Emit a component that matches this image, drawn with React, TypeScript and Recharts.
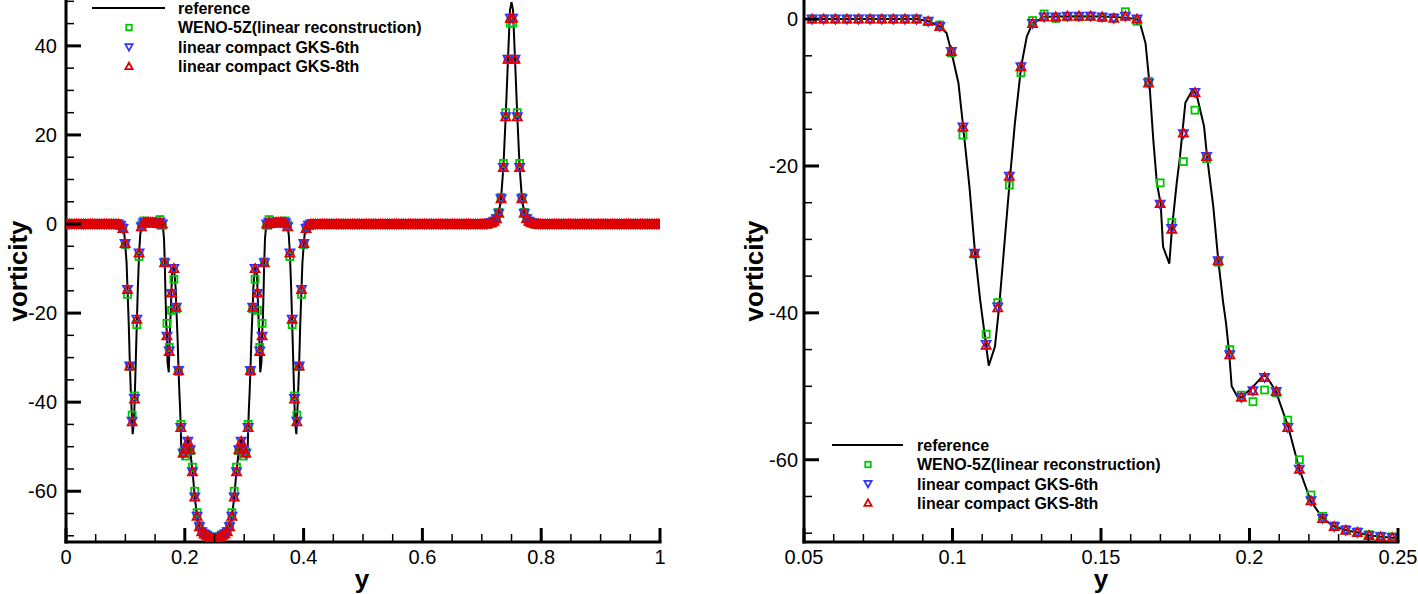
import React from "react";
import { ComposedChart, Line, Scatter, XAxis, YAxis } from "recharts";

// cell centres of the 256-cell grid used by the three schemes
const N = 256;
const cellY = Array.from({ length: N }, (_, i) => (i + 0.5) / N);

// WENO-5Z (linear reconstruction)
const weno = [
  0, 0, 0, 0, 0, 0, 0, 0, 0, 0, 0, 0, 0, 0, 0, 0,
  0, 0, 0, 0, 0, 0, 0, -0.3, -0.8, -4.6, -15.8, -32.0, -42.9, -38.6, -22.6, -7.3,
  -0.2, 0.7, 0.1, 0.3, 0.3, 0.4, 0.2, 0.2, 1.0, -0.3, -8.5, -22.3, -27.7, -19.4, -12.4, -19.0,
  -33.1, -45.0, -51.2, -52.1, -50.5, -50.9, -54.6, -60.0, -64.8, -67.7, -69.0, -69.5, -69.8, -70.2, -70.4, -70.5,
  -70.5, -70.4, -70.2, -69.8, -69.5, -69.0, -67.7, -64.8, -60.0, -54.6, -50.9, -50.5, -52.1, -51.2, -45.0, -33.1,
  -19.0, -12.4, -19.4, -27.7, -22.3, -8.5, -0.3, 1.0, 0.2, 0.2, 0.4, 0.3, 0.3, 0.1, 0.7, -0.2,
  -7.3, -22.6, -38.6, -42.9, -32.0, -15.8, -4.6, -0.8, -0.3, 0, 0, 0, 0, 0, 0, 0,
  0, 0, 0, 0, 0, 0, 0, 0, 0, 0, 0, 0, 0, 0, 0, 0,
  0, 0, 0, 0, 0, 0, 0, 0, 0, 0, 0, 0, 0, 0, 0, 0,
  0, 0, 0, 0, 0, 0, 0, 0, 0, 0, 0, 0, 0, 0, 0, 0,
  0, 0, 0, 0, 0, 0, 0, 0, 0, 0, 0, 0, 0, 0, 0, 0,
  0, 0, 0, 0, 0, 0, 0.2, 0.3, 0.6, 1.3, 2.6, 6.0, 13.6, 25.0, 37.0, 45.1,
  45.1, 37.0, 25.0, 13.6, 6.0, 2.6, 1.3, 0.6, 0.3, 0.2, 0, 0, 0, 0, 0, 0,
  0, 0, 0, 0, 0, 0, 0, 0, 0, 0, 0, 0, 0, 0, 0, 0,
  0, 0, 0, 0, 0, 0, 0, 0, 0, 0, 0, 0, 0, 0, 0, 0,
  0, 0, 0, 0, 0, 0, 0, 0, 0, 0, 0, 0, 0, 0, 0, 0,
];

// linear compact GKS-6th
const gks6 = [
  0, 0, 0, 0, 0, 0, 0, 0, 0, 0, 0, 0, 0, 0, 0, 0,
  0, 0, 0, 0, 0, 0, 0, -0.3, -1.0, -4.4, -14.7, -31.9, -44.3, -39.2, -21.4, -6.5,
  -0.6, 0.3, 0.3, 0.4, 0.4, 0.4, 0.3, 0.1, 0.4, 0, -8.7, -25.2, -28.5, -15.6, -10.0, -18.7,
  -32.9, -45.7, -51.5, -50.6, -48.8, -50.7, -55.6, -61.3, -65.6, -68.0, -69.1, -69.6, -69.9, -70.3, -70.5, -70.6,
  -70.6, -70.5, -70.3, -69.9, -69.6, -69.1, -68.0, -65.6, -61.3, -55.6, -50.7, -48.8, -50.6, -51.5, -45.7, -32.9,
  -18.7, -10.0, -15.6, -28.5, -25.2, -8.7, 0, 0.4, 0.1, 0.3, 0.4, 0.4, 0.4, 0.3, 0.3, -0.6,
  -6.5, -21.4, -39.2, -44.3, -31.9, -14.7, -4.4, -1.0, -0.3, 0, 0, 0, 0, 0, 0, 0,
  0, 0, 0, 0, 0, 0, 0, 0, 0, 0, 0, 0, 0, 0, 0, 0,
  0, 0, 0, 0, 0, 0, 0, 0, 0, 0, 0, 0, 0, 0, 0, 0,
  0, 0, 0, 0, 0, 0, 0, 0, 0, 0, 0, 0, 0, 0, 0, 0,
  0, 0, 0, 0, 0, 0, 0, 0, 0, 0, 0, 0, 0, 0, 0, 0,
  0, 0, 0, 0, 0, 0, 0.2, 0.3, 0.6, 1.2, 2.4, 5.7, 12.7, 24.1, 37.0, 46.2,
  46.2, 37.0, 24.1, 12.7, 5.7, 2.4, 1.2, 0.6, 0.3, 0.2, 0, 0, 0, 0, 0, 0,
  0, 0, 0, 0, 0, 0, 0, 0, 0, 0, 0, 0, 0, 0, 0, 0,
  0, 0, 0, 0, 0, 0, 0, 0, 0, 0, 0, 0, 0, 0, 0, 0,
  0, 0, 0, 0, 0, 0, 0, 0, 0, 0, 0, 0, 0, 0, 0, 0,
];

// linear compact GKS-8th (overlaps the 6th-order result)
const gks8 = [
  0, 0, 0, 0, 0, 0, 0, 0, 0, 0, 0, 0, 0, 0, 0, 0,
  0, 0, 0, 0, 0, 0, 0, -0.3, -1.0, -4.4, -14.7, -31.9, -44.4, -39.3, -21.4, -6.5,
  -0.6, 0.3, 0.3, 0.4, 0.4, 0.4, 0.3, 0.1, 0.4, 0, -8.7, -25.1, -28.6, -15.5, -10.0, -18.7,
  -32.9, -45.7, -51.5, -50.6, -48.8, -50.7, -55.6, -61.3, -65.6, -68.0, -69.1, -69.6, -69.9, -70.3, -70.5, -70.6,
  -70.6, -70.5, -70.3, -69.9, -69.6, -69.1, -68.0, -65.6, -61.3, -55.6, -50.7, -48.8, -50.6, -51.5, -45.7, -32.9,
  -18.7, -10.0, -15.5, -28.6, -25.1, -8.7, 0, 0.4, 0.1, 0.3, 0.4, 0.4, 0.4, 0.3, 0.3, -0.6,
  -6.5, -21.4, -39.3, -44.4, -31.9, -14.7, -4.4, -1.0, -0.3, 0, 0, 0, 0, 0, 0, 0,
  0, 0, 0, 0, 0, 0, 0, 0, 0, 0, 0, 0, 0, 0, 0, 0,
  0, 0, 0, 0, 0, 0, 0, 0, 0, 0, 0, 0, 0, 0, 0, 0,
  0, 0, 0, 0, 0, 0, 0, 0, 0, 0, 0, 0, 0, 0, 0, 0,
  0, 0, 0, 0, 0, 0, 0, 0, 0, 0, 0, 0, 0, 0, 0, 0,
  0, 0, 0, 0, 0, 0, 0.2, 0.3, 0.6, 1.2, 2.4, 5.7, 12.7, 24.1, 37.0, 46.2,
  46.2, 37.0, 24.1, 12.7, 5.7, 2.4, 1.2, 0.6, 0.3, 0.2, 0, 0, 0, 0, 0, 0,
  0, 0, 0, 0, 0, 0, 0, 0, 0, 0, 0, 0, 0, 0, 0, 0,
  0, 0, 0, 0, 0, 0, 0, 0, 0, 0, 0, 0, 0, 0, 0, 0,
  0, 0, 0, 0, 0, 0, 0, 0, 0, 0, 0, 0, 0, 0, 0, 0,
];

// reference solution (fine grid)
const refY = [
  0, 0.05, 0.088, 0.0918, 0.0957, 0.098, 0.0996, 0.102, 0.1036, 0.1057, 0.1076, 0.1093,
  0.1122, 0.1143, 0.1157, 0.1194, 0.121, 0.1231, 0.125, 0.1269, 0.1309, 0.1348, 0.1426,
  0.1504, 0.1582, 0.1621, 0.1631, 0.165, 0.1663, 0.1676, 0.1688, 0.1701, 0.1709, 0.173,
  0.1739, 0.1755, 0.1766, 0.1784, 0.1809, 0.1822, 0.1847, 0.1857, 0.1878, 0.1895, 0.1911,
  0.1921, 0.1932, 0.194, 0.1959, 0.1974, 0.2013, 0.2047, 0.2058, 0.2089, 0.2131, 0.2168,
  0.2206, 0.2247, 0.2286, 0.2325, 0.2364, 0.2403, 0.2442, 0.25,
  0.2558, 0.2597, 0.2636, 0.2675, 0.2714, 0.2753, 0.2794, 0.2832, 0.2869, 0.2911, 0.2942,
  0.2953, 0.2987, 0.3026, 0.3041, 0.306, 0.3068, 0.3079, 0.3089, 0.3105, 0.3122, 0.3143,
  0.3153, 0.3178, 0.3191, 0.3216, 0.3234, 0.3245, 0.3261, 0.327, 0.3291, 0.3299, 0.3312,
  0.3324, 0.3337, 0.335, 0.3369, 0.3379, 0.3418, 0.3496, 0.3574, 0.3652, 0.3691, 0.3731,
  0.375, 0.3769, 0.379, 0.3806, 0.3843, 0.3857, 0.3878, 0.3907, 0.3924, 0.3943, 0.3964,
  0.398, 0.4004, 0.402, 0.4043, 0.4082, 0.412,
  0.7, 0.7168, 0.7207, 0.7246, 0.7285, 0.7324, 0.7363, 0.7402, 0.7441, 0.7475, 0.75,
  0.7525, 0.7559, 0.7598, 0.7637, 0.7676, 0.7715, 0.7754, 0.7793, 0.7832, 0.8, 1,
];
const refV = [
  0, 0, 0, -0.3, -1.0, -1.9, -4.4, -8.7, -14.7, -22.8, -31.9, -38.2,
  -47.2, -44.6, -39.2, -21.4, -14.2, -6.5, -2.4, -0.6, 0.3, 0.35, 0.4,
  0.35, 0.2, 0, -0.5, -3.3, -8.7, -16.4, -22.3, -25.2, -31.0, -33.3,
  -28.5, -22.3, -18.7, -11.4, -9.6, -10.3, -14.6, -18.7, -25.5, -32.9, -38.5,
  -41.4, -45.7, -50.0, -51.4, -51.5, -50.0, -48.5, -48.7, -50.7, -55.6, -61.3,
  -65.6, -68.0, -69.1, -69.6, -69.9, -70.3, -70.5, -70.7,
  -70.5, -70.3, -69.9, -69.6, -69.1, -68.0, -65.6, -61.3, -55.6, -50.7, -48.7,
  -48.5, -50.0, -51.5, -51.4, -50.0, -45.7, -41.4, -38.5, -32.9, -25.5, -18.7,
  -14.6, -10.3, -9.6, -11.4, -18.7, -22.3, -28.5, -33.3, -31.0, -25.2, -22.3,
  -16.4, -8.7, -3.3, -0.5, 0, 0.2, 0.35, 0.4, 0.35, 0.3, -0.6,
  -2.4, -6.5, -14.2, -21.4, -39.2, -44.6, -47.2, -38.2, -31.9, -22.8, -14.7,
  -8.7, -4.4, -1.9, -1.0, -0.3, 0,
  0, 0.3, 0.6, 1.2, 2.4, 5.7, 12.7, 24.1, 37.0, 48.1, 49.8,
  48.1, 37.0, 24.1, 12.7, 5.7, 2.4, 1.2, 0.6, 0.3, 0, 0,
];

// axis ticks
const leftXTicks = [0, 0.05, 0.1, 0.15, 0.2, 0.25, 0.3, 0.35, 0.4, 0.45, 0.5, 0.55, 0.6, 0.65, 0.7, 0.75, 0.8, 0.85, 0.9, 0.95, 1];
const leftXMajor = [0, 0.2, 0.4, 0.6, 0.8, 1];
const leftYTicks = [-70, -65, -60, -55, -50, -45, -40, -35, -30, -25, -20, -15, -10, -5, 0, 5, 10, 15, 20, 25, 30, 35, 40, 45, 50];
const leftYMajor = [-60, -40, -20, 0, 20, 40];
const rightXTicks = [0.05, 0.06, 0.07, 0.08, 0.09, 0.1, 0.11, 0.12, 0.13, 0.14, 0.15, 0.16, 0.17, 0.18, 0.19, 0.2, 0.21, 0.22, 0.23, 0.24, 0.25];
const rightXMajor = [0.05, 0.1, 0.15, 0.2, 0.25];
const rightYTicks = [-70, -65, -60, -55, -50, -45, -40, -35, -30, -25, -20, -15, -10, -5, 0];
const rightYMajor = [-60, -40, -20, 0];

const legendLabels = [
  "reference",
  "WENO-5Z(linear reconstruction)",
  "linear compact GKS-6th",
  "linear compact GKS-8th",
];

const FONT = "'Liberation Sans', Arial, Helvetica, sans-serif";
const GREEN = "#00c800";
const BLUE = "#3434ff";
const RED = "#de0000";

const toPts = (vals: number[]) => cellY.map((y, i) => ({ y, v: vals[i] }));
const wenoPts = toPts(weno);
const gks6Pts = toPts(gks6);
const gks8Pts = toPts(gks8);
const refPts = refY.map((y, i) => ({ y, v: refV[i] }));
const inZoom = (p: { y: number }) => p.y >= 0.05 - 1e-9 && p.y <= 0.25 + 1e-9;

const isMajor = (v: number, majors: number[]) => majors.some((m) => Math.abs(m - v) < 1e-9);

function SquareMark({ cx, cy, s = 7 }: any) {
  if (cx == null || cy == null) return null;
  return <rect x={cx - s / 2} y={cy - s / 2} width={s} height={s} fill="none" stroke={GREEN} strokeWidth={1.8} />;
}

function TriDown({ cx, cy, s = 4.5 }: any) {
  if (cx == null || cy == null) return null;
  const pts = `${cx - s},${cy - s * 0.8} ${cx + s},${cy - s * 0.8} ${cx},${cy + s}`;
  return <polygon points={pts} fill="none" stroke={BLUE} strokeWidth={1.8} />;
}

function TriUp({ cx, cy, s = 4.5 }: any) {
  if (cx == null || cy == null) return null;
  const pts = `${cx - s},${cy + s * 0.8} ${cx + s},${cy + s * 0.8} ${cx},${cy - s}`;
  return <polygon points={pts} fill="none" stroke={RED} strokeWidth={1.8} />;
}

function makeXTick(majors: number[]) {
  return (props: any) => {
    const { x, y, payload } = props;
    const major = isMajor(payload.value, majors);
    return (
      <g>
        <line x1={x} x2={x} y1={y} y2={y - (major ? 14 : 8)} stroke="#000" strokeWidth={major ? 3 : 1.5} />
        {major && (
          <text x={x} y={y + 22} textAnchor="middle" fontSize={20} fontFamily={FONT} fill="#000">
            {String(payload.value)}
          </text>
        )}
      </g>
    );
  };
}

function makeYTick(majors: number[], gap: number) {
  return (props: any) => {
    const { x, y, payload } = props;
    const major = isMajor(payload.value, majors);
    return (
      <g>
        <line x1={x} x2={x + (major ? 15 : 8)} y1={y} y2={y} stroke="#000" strokeWidth={major ? 3 : 1.5} />
        {major && (
          <text x={x - gap} y={y + 7} textAnchor="end" fontSize={20} fontFamily={FONT} fill="#000">
            {String(payload.value)}
          </text>
        )}
      </g>
    );
  };
}

const axisLine = { stroke: "#000", strokeWidth: 3, strokeLinecap: "square" as const };

interface PanelProps {
  width: number;
  axisW: number;
  right: number;
  xDomain: [number, number];
  yDomain: [number, number];
  xTicks: number[];
  xMajor: number[];
  yTicks: number[];
  yMajor: number[];
  labelGap: number;
  zoom?: boolean;
}

function Panel({ width, axisW, right, xDomain, yDomain, xTicks, xMajor, yTicks, yMajor, labelGap, zoom }: PanelProps) {
  const pick = <T extends { y: number }>(d: T[]) => (zoom ? d.filter(inZoom) : d);
  return (
    <ComposedChart width={width} height={594} margin={{ top: 0, right, left: 0, bottom: 0 }}>
      <XAxis
        type="number"
        dataKey="y"
        domain={xDomain}
        ticks={xTicks}
        interval={0}
        height={52}
        tickSize={0}
        tickMargin={0}
        tickLine={false}
        axisLine={axisLine}
        tick={makeXTick(xMajor)}
        allowDataOverflow
      />
      <YAxis
        type="number"
        dataKey="v"
        domain={yDomain}
        ticks={yTicks}
        interval={0}
        width={axisW}
        tickSize={0}
        tickMargin={0}
        tickLine={false}
        axisLine={axisLine}
        tick={makeYTick(yMajor, labelGap)}
        allowDataOverflow
      />
      <Line
        data={pick(refPts)}
        dataKey="v"
        type="linear"
        stroke="#000"
        strokeWidth={2}
        dot={false}
        activeDot={false}
        isAnimationActive={false}
      />
      <Scatter data={pick(wenoPts)} shape={(p: any) => <SquareMark {...p} />} isAnimationActive={false} />
      <Scatter data={pick(gks6Pts)} shape={(p: any) => <TriDown {...p} />} isAnimationActive={false} />
      <Scatter data={pick(gks8Pts)} shape={(p: any) => <TriUp {...p} />} isAnimationActive={false} />
    </ComposedChart>
  );
}

function LegendBox({ lineX0, lineX1, markX, textX, rows }: { lineX0: number; lineX1: number; markX: number; textX: number; rows: number[] }) {
  return (
    <g fontFamily={FONT} fontSize={16} fontWeight="bold">
      <line x1={lineX0} x2={lineX1} y1={rows[0]} y2={rows[0]} stroke="#000" strokeWidth={2} />
      <SquareMark cx={markX} cy={rows[1]} s={5.5} />
      <TriDown cx={markX} cy={rows[2]} s={3.6} />
      <TriUp cx={markX} cy={rows[3]} s={3.6} />
      {legendLabels.map((t, i) => (
        <text key={t} x={textX} y={rows[i] + 5.8} fill="#000">
          {t}
        </text>
      ))}
    </g>
  );
}

export default function App() {
  return (
    <div style={{ position: "absolute", left: 0, top: 0, width: 1418, height: 594, background: "#fff" }}>
      <div style={{ position: "absolute", left: 0, top: 0 }}>
        <Panel
          width={700}
          axisW={66}
          right={40}
          xDomain={[0, 1]}
          yDomain={[-71.4, 50.3]}
          xTicks={leftXTicks}
          xMajor={leftXMajor}
          yTicks={leftYTicks}
          yMajor={leftYMajor}
          labelGap={9}
        />
      </div>
      <div style={{ position: "absolute", left: 700, top: 0 }}>
        <Panel
          width={718}
          axisW={104}
          right={20}
          xDomain={[0.05, 0.25]}
          yDomain={[-71.2, 2.6]}
          xTicks={rightXTicks}
          xMajor={rightXMajor}
          yTicks={rightYTicks}
          yMajor={rightYMajor}
          labelGap={6}
          zoom
        />
      </div>
      <svg width={1418} height={594} style={{ position: "absolute", left: 0, top: 0, pointerEvents: "none" }}>
        <g fontFamily={FONT} fontSize={26} fontWeight="bold" fill="#000">
          <text transform="translate(18,271) rotate(-90)" textAnchor="middle" dominantBaseline="central">
            vorticity
          </text>
          <text x={362} y={588} textAnchor="middle">
            y
          </text>
          <text transform="translate(754,271) rotate(-90)" textAnchor="middle" dominantBaseline="central">
            vorticity
          </text>
          <text x={1101} y={588} textAnchor="middle">
            y
          </text>
        </g>
        <LegendBox lineX0={92} lineX1={165} markX={129} textX={178} rows={[8, 27.5, 47, 66.3]} />
        <LegendBox lineX0={832} lineX1={903} markX={868} textX={917} rows={[445, 464.5, 483.7, 502.9]} />
      </svg>
    </div>
  );
}
